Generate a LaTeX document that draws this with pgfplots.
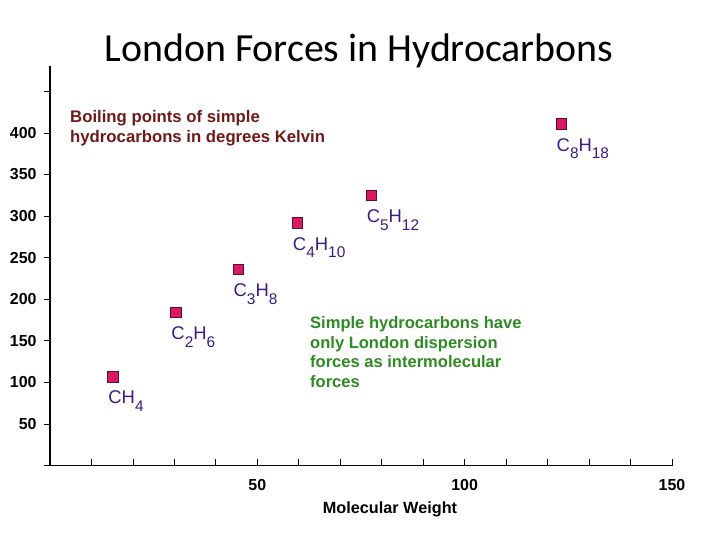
\documentclass[border=0pt]{standalone}
\usepackage{pgfplots}
\pgfplotsset{compat=1.18}
\usepackage{fontspec}
\setmainfont{Liberation Sans}
\newfontfamily\titlefont{Carlito}
\definecolor{markfill}{HTML}{D81B60}
\definecolor{markdraw}{HTML}{5E0B33}
\definecolor{labcol}{HTML}{3A1C82}
\definecolor{redtext}{HTML}{6E1A1A}
\definecolor{greentext}{HTML}{2E8A22}
\newcommand\sub[1]{\raisebox{-7.5bp}{\fontsize{15.5}{15.5}\selectfont #1}}
\begin{document}
\begin{tikzpicture}
\path[use as bounding box] (0,0) rectangle (720bp,540bp);
\begin{axis}[
  at={(50bp,74.4bp)}, anchor=origin,
  scale only axis, width=622bp, height=399.2bp,
  xmin=0, xmax=150, ymin=0, ymax=480,
  axis lines=left,
  axis line style={-, line width=1.6bp, black},
  x axis line style={shorten <=-6bp},
  xtick={10,20,...,150},
  xticklabels={,,,,50,,,,,100,,,,,150},
  ytick={50,100,...,450},
  yticklabels={50,100,150,200,250,300,350,400,},
  tick align=center,
  major tick length=6.5bp,
  tick style={black, line width=0.8bp},
  x tick style={yshift=3.25bp},
  y tick style={xshift=-3.25bp},
  ticklabel style={font=\bfseries\fontsize{16}{16}\selectfont, inner sep=0pt},
  xticklabel style={anchor=north, yshift=-10bp},
  yticklabel style={anchor=east, xshift=-10bp},
  clip=false,
]
\addplot[only marks, mark=square*, mark size=5.3bp,
  mark options={fill=markfill, draw=markdraw, line width=0.8bp},
  nodes near coords, point meta=explicit symbolic,
  every node near coord/.append style={anchor=north west, inner sep=0pt,
    xshift=-5bp, yshift=-14bp, text=labcol,
    font=\fontsize{18.5}{18.5}\selectfont}]
coordinates {
  (15.2,107) [CH\sub{4}]
  (30.4,184) [C\sub{2}H\sub{6}]
  (45.4,236) [C\sub{3}H\sub{8}]
  (59.7,292) [C\sub{4}H\sub{10}]
  (77.5,325) [C\sub{5}H\sub{12}]
  (123.3,410.8) [C\sub{8}H\sub{18}]
};
\end{axis}
\node[anchor=base, inner sep=0pt, font=\titlefont\fontsize{40}{40}\selectfont] at (359bp,478bp) {London Forces in Hydrocarbons};
\node[anchor=base, inner sep=0pt, font=\bfseries\fontsize{16.3}{16.3}\selectfont] at (390bp,27bp) {Molecular Weight};
\begin{scope}[every node/.style={anchor=base west, inner sep=0pt, text=redtext, font=\bfseries\fontsize{16.8}{16.8}\selectfont}]
\node at (70bp,417bp) {Boiling points of simple};
\node at (70bp,397bp) {hydrocarbons in degrees Kelvin};
\end{scope}
\begin{scope}[every node/.style={anchor=base west, inner sep=0pt, text=greentext, font=\bfseries\fontsize{16.6}{16.6}\selectfont}]
\node at (310bp,211bp) {Simple hydrocarbons have};
\node at (310bp,191.5bp) {only London dispersion};
\node at (310bp,172bp) {forces as intermolecular};
\node at (310bp,152.5bp) {forces};
\end{scope}
\end{tikzpicture}
\end{document}
